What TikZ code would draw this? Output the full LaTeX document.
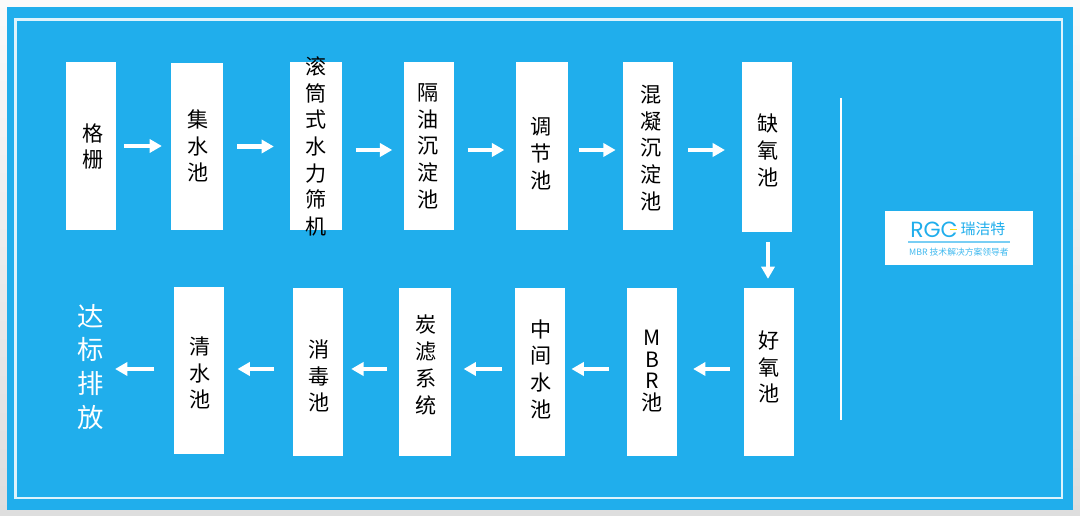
\documentclass[tikz,border=0pt]{standalone}
\usepackage{fontspec}
\setmainfont{Noto Sans CJK SC}
\newfontfamily\logofont{Poppins}
\usetikzlibrary{arrows.meta}
\definecolor{skyblue}{HTML}{20AEEC}
\tikzset{
  stagebox/.style={fill=white, minimum width=1cm, minimum height=3.36cm, inner sep=0pt},
  stagetext/.style={align=center, inner sep=0pt, font=\fontsize{12}{15.2}\selectfont},
  flow/.style={draw=white, line width=2.8pt, -{Triangle[length=7pt,width=7.5pt]}}
}

\begin{document}
\begin{tikzpicture}[x=0.02cm, y=-0.02cm]
    \useasboundingbox (0,0) rectangle (1080,516);
    \shade[top color=black!2, bottom color=black!13] (0,0) rectangle (1080,516);
    \fill[skyblue] (7,7) rectangle (1073,510);
    \draw[white!85!skyblue, line width=1.4pt] (15.5,19.5) rectangle (1062,498);
    % top row
    \node[stagebox] (grid) at (91,146) {};
    \node[stagebox, minimum width=1.04cm] (sump) at (197,146.5) {};
    \node[stagebox, minimum width=1.04cm] (drum) at (316,146) {};
    \node[stagebox] (oil) at (429,146) {};
    \node[stagebox, minimum width=1.04cm] (adjust) at (542,146) {};
    \node[stagebox] (coag) at (648,146) {};
    \node[stagebox, minimum height=3.4cm] (anoxic) at (767,147) {};
    \node[stagetext] (gridtext) at (93,146.5) {格\\栅};
    \node[stagetext] (sumptext) at (198,146) {集\\水\\池};
    \node[stagetext] (drumtext) at (316,146.5) {滚\\筒\\式\\水\\力\\筛\\机};
    \node[stagetext] (oiltext) at (428.5,146) {隔\\油\\沉\\淀\\池};
    \node[stagetext] (adjusttext) at (541,153.5) {调\\节\\池};
    \node[stagetext] (coagtext) at (651,148) {混\\凝\\沉\\淀\\池};
    \node[stagetext] (anoxictext) at (768,150.5) {缺\\氧\\池};
    % bottom row
    \node[stagebox] (oxic) at (769,372) {};
    \node[stagebox] (mbr) at (652,372) {};
    \node[stagebox] (mid) at (540,372) {};
    \node[stagebox, minimum width=1.04cm] (carbon) at (425,372) {};
    \node[stagebox] (disinfect) at (318,372) {};
    \node[stagebox, minimum height=3.34cm] (clean) at (199,370.5) {};
    \node[stagetext] (oxictext) at (769,367) {好\\氧\\池};
    \node[stagetext] (mbrtext) at (652,371) {M\\[-3pt]B\\[-3pt]R\\[-3pt]池};
    \node[stagetext] (midtext) at (541,369) {中\\间\\水\\池};
    \node[stagetext] (carbontext) at (426,365) {炭\\滤\\系\\统};
    \node[stagetext] (disinfecttext) at (319,376) {消\\毒\\池};
    \node[stagetext] (cleantext) at (200,373) {清\\水\\池};
    \node[white, align=center, inner sep=0pt, font=\fontsize{15}{19.3}\selectfont] (out) at (91,367) {达\\标\\排\\放};
    % arrows
    \draw[flow, shorten <=4.5pt, shorten >=5pt] (grid.east) -- (grid.east -| sump.west);
    \draw[flow, shorten <=8pt, shorten >=9pt] (sump.east) -- (sump.east -| drum.west);
    \draw[flow, shorten <=7.5pt, shorten >=6.5pt] ([yshift=-0.08cm]drum.east) -- ([yshift=-0.08cm]oil.west);
    \draw[flow, shorten <=7.5pt, shorten >=6.5pt] ([yshift=-0.08cm]oil.east) -- ([yshift=-0.08cm]adjust.west);
    \draw[flow, shorten <=6pt, shorten >=4pt] ([yshift=-0.08cm]adjust.east) -- ([yshift=-0.08cm]coag.west);
    \draw[flow, shorten <=8.5pt, shorten >=9.5pt] ([yshift=-0.08cm]coag.east) -- ([yshift=-0.08cm]coag.east -| anoxic.west);
    \draw[flow, shorten <=5.5pt, shorten >=5pt] ([xshift=0.02cm]anoxic.south) -- ([xshift=0.02cm]anoxic.south |- oxic.north);
    \draw[flow, shorten <=8pt, shorten >=9pt] ([yshift=0.06cm]oxic.west) -- ([yshift=0.06cm]mbr.east);
    \draw[flow, shorten <=10pt, shorten >=3.5pt] ([yshift=0.06cm]mbr.west) -- ([yshift=0.06cm]mid.east);
    \draw[flow, shorten <=7pt, shorten >=7pt] ([yshift=0.06cm]mid.west) -- ([yshift=0.06cm]carbon.east);
    \draw[flow, shorten <=6.5pt, shorten >=4.5pt] ([yshift=0.06cm]carbon.west) -- ([yshift=0.06cm]disinfect.east);
    \draw[flow, shorten <=10.5pt, shorten >=7.5pt] ([yshift=0.06cm]disinfect.west) -- ([yshift=0.06cm]disinfect.west -| clean.east);
    \draw[flow, shorten <=11pt, shorten >=6pt] ([yshift=0.03cm]clean.west) -- ([yshift=0.03cm]clean.west -| out.east);
    % divider and logo
    \coordinate (divtop) at (841,98);
    \coordinate (divbot) at (841,420);
    \draw[white, line width=0.8pt] (divtop) -- (divbot);
    \node[fill=white, minimum width=2.96cm, minimum height=1.08cm, inner sep=0pt] (logo) at (959,238) {};
    \node[skyblue, font=\fontsize{12.5}{13}\logofont, inner sep=0pt] (brand) at (934,230) {RGC};
    \node[skyblue, font=\fontsize{8.5}{9}\selectfont, inner sep=0pt] (brandcn) at (983,229) {瑞洁特};
    \fill[yellow!80!orange] (950,229) rectangle (957,230.5);
    \draw[skyblue!60, line width=0.8pt] (908,242) -- (1010,242);
    \node[skyblue!85, font=\fontsize{5}{5}\selectfont, inner sep=0pt] (slogan) at (959,252) {MBR 技术解决方案领导者};
\end{tikzpicture}
\end{document}
